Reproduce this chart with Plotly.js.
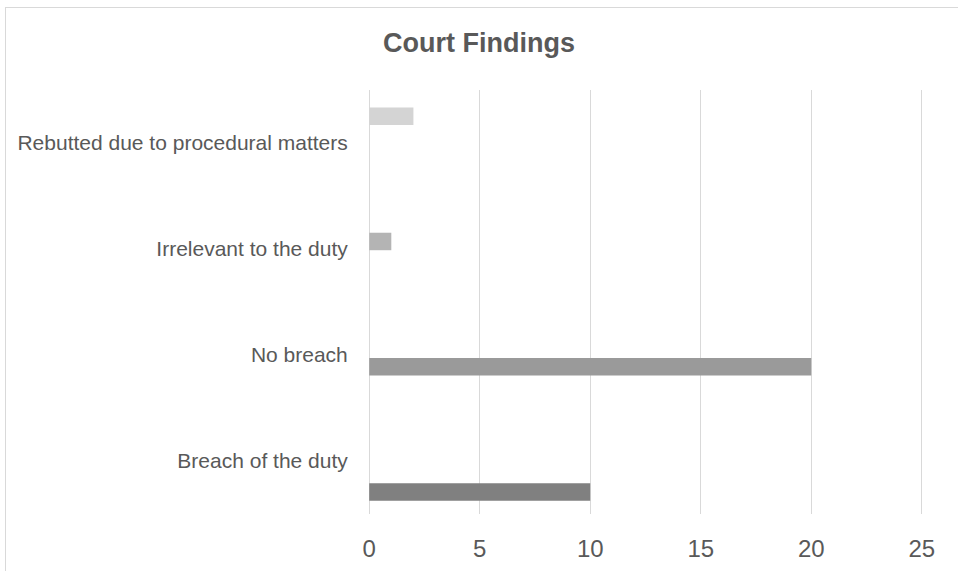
<!DOCTYPE html>
<html>
<head>
<meta charset="utf-8">
<script src="https://cdn.plot.ly/plotly-3.0.1.min.js"></script>
<style>
  html, body { margin: 0; padding: 0; background: #ffffff; }
  #wrap { position: relative; width: 958px; height: 571px; overflow: hidden; }
  #frame {
    position: absolute; left: 5px; top: 7px; width: 960px; height: 570px;
    border-top: 1px solid #d9d9d9; border-left: 1px solid #d9d9d9;
  }
  #chart { position: absolute; left: 0; top: 0; width: 958px; height: 571px; }
</style>
</head>
<body>
<div id="wrap">
  <div id="frame"></div>
  <div id="chart"></div>
</div>
<script>
// Court findings by outcome, one series per outcome (bottom to top)
const categories = [
  "Breach of the duty",
  "No breach",
  "Irrelevant to the duty",
  "Rebutted due to procedural matters"
];
const findingCounts = [10, 20, 1, 2];
const barColors = ["#808080", "#9a9a9a", "#b4b4b4", "#d4d4d4"];
const xTickValues = [0, 5, 10, 15, 20, 25];

const labelFont = '"Liberation Sans", Arial, Helvetica, sans-serif';

// Each series keeps its own slot inside the category band, as in a
// clustered bar chart: slot width and bar thickness in category units.
const slot = 0.182;
const barWidth = 0.165;
const bandShift = -0.02;
const nSeries = categories.length;

const traces = categories.map((cat, i) => ({
  type: "bar",
  orientation: "h",
  name: cat,
  y: [cat],
  x: [findingCounts[i]],
  width: barWidth,
  offset: (i - (nSeries - 1) / 2) * slot - barWidth / 2 + bandShift,
  marker: { color: barColors[i], line: { width: 0 } },
  hoverinfo: "x+y"
}));

const layout = {
  width: 958,
  height: 571,
  paper_bgcolor: "rgba(0,0,0,0)",
  plot_bgcolor: "rgba(0,0,0,0)",
  margin: { l: 367, r: 34, t: 90, b: 57 },
  barmode: "overlay",
  showlegend: false,
  title: {
    text: "<b>Court Findings</b>",
    font: { family: labelFont, size: 27, color: "#595959" },
    x: 0.5,
    xref: "container",
    xanchor: "center",
    y: 0.925,
    yref: "container",
    yanchor: "middle"
  },
  xaxis: {
    range: [-0.1, 25.1],
    tickvals: xTickValues,
    ticktext: xTickValues.map(String),
    showgrid: true,
    gridcolor: "#d9d9d9",
    gridwidth: 1,
    zeroline: false,
    showline: false,
    ticks: "outside",
    ticklen: 13,
    tickcolor: "rgba(0,0,0,0)",
    tickfont: { family: labelFont, size: 24, color: "#595959" },
    fixedrange: true
  },
  yaxis: {
    type: "category",
    categoryorder: "array",
    categoryarray: categories,
    range: [-0.5, 3.5],
    showgrid: false,
    zeroline: false,
    showline: false,
    ticks: "outside",
    ticklen: 14,
    tickcolor: "rgba(0,0,0,0)",
    tickfont: { family: labelFont, size: 21, color: "#595959" },
    fixedrange: true
  }
};

Plotly.newPlot("chart", traces, layout, { displayModeBar: false, staticPlot: true });
</script>
</body>
</html>
